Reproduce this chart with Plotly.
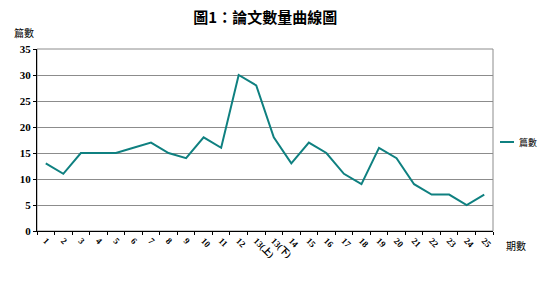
import plotly.graph_objects as go

categories = ["1", "2", "3", "4", "5", "6", "7", "8", "9", "10", "11", "12",
              "13(上)", "13(下)", "14", "15", "16", "17", "18", "19", "20",
              "21", "22", "23", "24", "25"]
counts = [13, 11, 15, 15, 15, 16, 17, 15, 14, 18, 16, 30, 28, 18, 13, 17, 15,
          11, 9, 16, 14, 9, 7, 7, 5, 7]
series_name = "篇數"
LINE_COLOR = "#0f8080"

FONT = "Liberation Serif, Noto Sans CJK TC, serif"
CJK = "Noto Sans CJK TC, sans-serif"

fig = go.Figure()
fig.add_trace(go.Scatter(
    x=categories, y=counts, mode="lines", name=series_name,
    line=dict(color=LINE_COLOR, width=2), showlegend=False,
))

fig.update_layout(
    width=547, height=287,
    margin=dict(l=37, r=54, t=49, b=56, autoexpand=False),
    paper_bgcolor="white", plot_bgcolor="white",
    title=dict(text="<b>圖1：論文數量曲線圖</b>", x=0.485, xanchor="center",
               y=1 - 18 / 287, yanchor="middle",
               font=dict(family=CJK, size=15, color="black")),
    showlegend=False,
    xaxis=dict(
        type="category", range=[-0.5, 25.5],
        showgrid=False, showline=True, linecolor="black", linewidth=1,
        mirror=False, ticks="outside", tickson="boundaries", ticklen=3,
        tickcolor="black", tickangle=45,
        tickfont=dict(family=FONT, size=9, color="black", weight="bold"),
        zeroline=False,
    ),
    yaxis=dict(
        range=[0, 35], dtick=5, showgrid=True, gridcolor="#8c8c8c",
        gridwidth=1, showline=True, linecolor="black", linewidth=1,
        ticks="outside", ticklen=3, tickcolor="black",
        tickfont=dict(family=FONT, size=11, color="black", weight="bold"),
        zeroline=False,
    ),
    shapes=[
        dict(type="rect", xref="paper", yref="paper", x0=0, y0=0, x1=1, y1=1,
             line=dict(color="#8c8c8c", width=1), layer="below"),
        dict(type="line", xref="paper", yref="paper", x0=1.0154, x1=1.046,
             y0=0.489, y1=0.489, line=dict(color=LINE_COLOR, width=2)),
    ],
    annotations=[
        dict(text=series_name, xref="paper", yref="paper", x=1.053, y=0.489,
             xanchor="left", yanchor="middle", showarrow=False,
             font=dict(family=CJK, size=9, color="black")),
        dict(text="篇數", xref="paper", yref="paper", x=-0.055, y=1.09,
             xanchor="left", yanchor="middle", showarrow=False,
             font=dict(family=CJK, size=10, color="black")),
        dict(text="期數", xref="paper", yref="paper", x=1.025, y=-0.08,
             xanchor="left", yanchor="middle", showarrow=False,
             font=dict(family=CJK, size=10, color="black")),
    ],
)

fig.write_html("out.html")
